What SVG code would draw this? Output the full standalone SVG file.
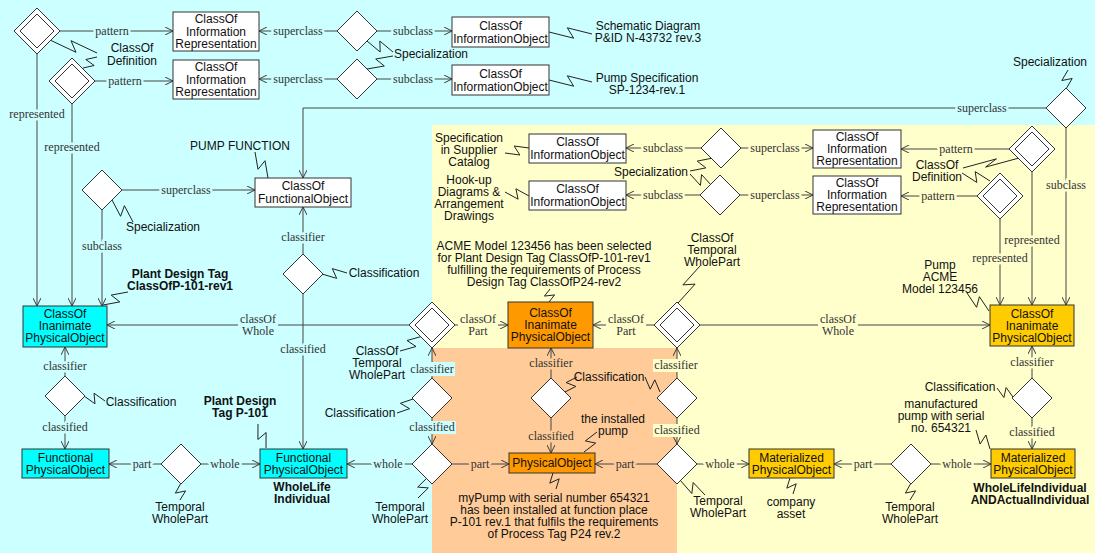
<svg xmlns="http://www.w3.org/2000/svg" width="1095" height="553" viewBox="0 0 1095 553">
<style>
.box{stroke:#333;stroke-width:1}
.w{fill:#fff}.cy{fill:#00FFFF}.or{fill:#FF9900}.gd{fill:#FFCC00}
.dia{fill:#fff;stroke:#333;stroke-width:1}
.ln{fill:none;stroke:#444;stroke-width:1}
.arr{marker-end:url(#a)}
.zz{fill:none;stroke:#222;stroke-width:1}
.nt{font-family:"Liberation Sans",Arial,sans-serif;font-size:12px;text-anchor:middle;fill:#111}
.b{font-weight:bold}
.lb{font-family:"Liberation Serif","Times New Roman",serif;font-size:12px;text-anchor:middle;fill:#333;paint-order:stroke;stroke-width:5;stroke-linejoin:round}
.lc{stroke:#CCFFFF}.ly{stroke:#FFFFCC}.lo{stroke:#FFCC99}
.rc{fill:#CCFFFF}.ry{fill:#FFFFCC}.ro{fill:#FFCC99}
</style>
<defs>
<marker id="a" viewBox="0 0 10 10" refX="10" refY="5" markerWidth="8" markerHeight="8" markerUnits="userSpaceOnUse" orient="auto"><path d="M0,0 L10,5 L0,10" fill="none" stroke="#333" stroke-width="1.2"/></marker>
<path id="dm" class="dia" d="M0,-20 L20,0 L0,20 L-20,0Z"/>
<g id="dd"><path class="dia" d="M0,-23 L23,0 L0,23 L-23,0Z"/><path class="dia" d="M0,-17 L17,0 L0,17 L-17,0Z"/></g>
</defs>
<g id="background">
<rect x="0" y="0" width="1095" height="553" fill="#CCFFFF"/>
<rect x="432" y="125" width="663" height="428" fill="#FFFFCC"/>
<rect x="432" y="348" width="245" height="205" fill="#FFCC99"/>
</g>
<g id="connectors">
<path class="ln arr" d="M59,31 H173"/>
<path class="ln arr" d="M95,81 H173"/>
<path class="ln arr" d="M337,31 H259"/>
<path class="ln arr" d="M337,79 H259"/>
<path class="ln arr" d="M377,31 H452"/>
<path class="ln arr" d="M377,79 H452"/>
<path class="ln arr" d="M37,54 V306"/>
<path class="ln arr" d="M72,104 V306"/>
<path class="ln arr" d="M122,190 H255"/>
<path class="ln arr" d="M102,210 V306"/>
<path class="ln arr" d="M1046,108 H303 V178"/>
<path class="ln arr" d="M1066,128 V305"/>
<path class="ln arr" d="M701,148 H626"/>
<path class="ln arr" d="M700,195 H626"/>
<path class="ln arr" d="M741,148 H813"/>
<path class="ln arr" d="M740,195 H813"/>
<path class="ln arr" d="M1009,149 H901"/>
<path class="ln arr" d="M977,196 H901"/>
<path class="ln arr" d="M1032,172 V305"/>
<path class="ln arr" d="M1000,219 V305"/>
<path class="ln arr" d="M409,325 H107"/>
<path class="ln arr" d="M455,325 H508"/>
<path class="ln arr" d="M654,325 H593"/>
<path class="ln arr" d="M700,325 H990"/>
<path class="ln arr" d="M303,254 V207"/>
<path class="ln arr" d="M303,294 V449"/>
<path class="ln arr" d="M65,376 V347"/>
<path class="ln arr" d="M65,416 V449"/>
<path class="ln arr" d="M161,464 H109"/>
<path class="ln arr" d="M201,464 H260"/>
<path class="ln arr" d="M432,378 V348"/>
<path class="ln arr" d="M432,418 V444"/>
<path class="ln arr" d="M412,464 H347"/>
<path class="ln arr" d="M452,464 H509"/>
<path class="ln arr" d="M551,378 V348"/>
<path class="ln arr" d="M551,418 V453"/>
<path class="ln arr" d="M677,378 V348"/>
<path class="ln arr" d="M677,418 V444"/>
<path class="ln arr" d="M657,464 H595"/>
<path class="ln arr" d="M697,464 H749"/>
<path class="ln arr" d="M891,464 H834"/>
<path class="ln arr" d="M931,464 H991"/>
<path class="ln arr" d="M1032,378 V346"/>
<path class="ln arr" d="M1032,418 V449"/>
<rect class="rc" x="238" y="312" width="40" height="26"/>
<rect class="ry" x="458" y="312" width="40" height="26"/>
<rect class="ry" x="606" y="312" width="40" height="26"/>
<rect class="ry" x="818" y="312" width="40" height="26"/>
<rect class="rc" x="409" y="362" width="46" height="14"/>
<rect class="rc" x="408" y="421" width="48" height="13"/>
<rect class="ry" x="653" y="359" width="46" height="13"/>
<rect class="ry" x="653" y="424" width="48" height="13"/>
<text class="lb lc" x="112" y="35">pattern</text>
<text class="lb lc" x="125" y="85">pattern</text>
<text class="lb lc" x="298" y="35">superclass</text>
<text class="lb lc" x="298" y="83">superclass</text>
<text class="lb lc" x="413" y="35">subclass</text>
<text class="lb lc" x="413" y="83">subclass</text>
<text class="lb lc" x="37" y="118">represented</text>
<text class="lb lc" x="72" y="151">represented</text>
<text class="lb lc" x="186" y="194">superclass</text>
<text class="lb lc" x="102" y="250">subclass</text>
<text class="lb lc" x="982" y="112">superclass</text>
<text class="lb ly" x="1066" y="189">subclass</text>
<text class="lb ly" x="663" y="152">subclass</text>
<text class="lb ly" x="663" y="199">subclass</text>
<text class="lb ly" x="775" y="152">superclass</text>
<text class="lb ly" x="775" y="199">superclass</text>
<text class="lb ly" x="956" y="153">pattern</text>
<text class="lb ly" x="938" y="200">pattern</text>
<text class="lb ly" x="1032" y="244">represented</text>
<text class="lb ly" x="1000" y="262">represented</text>
<text class="lb" x="258" y="323">classOf</text><text class="lb" x="258" y="335">Whole</text>
<text class="lb" x="478" y="323">classOf</text><text class="lb" x="478" y="335">Part</text>
<text class="lb" x="626" y="323">classOf</text><text class="lb" x="626" y="335">Part</text>
<text class="lb" x="838" y="323">classOf</text><text class="lb" x="838" y="335">Whole</text>
<text class="lb lc" x="303" y="241">classifier</text>
<text class="lb lc" x="303" y="353">classified</text>
<text class="lb lc" x="65" y="370">classifier</text>
<text class="lb lc" x="65" y="431">classified</text>
<text class="lb lc" x="142" y="468">part</text>
<text class="lb lc" x="225" y="468">whole</text>
<text class="lb" x="432" y="373">classifier</text>
<text class="lb" x="432" y="431">classified</text>
<text class="lb lc" x="388" y="468">whole</text>
<text class="lb lo" x="480" y="468">part</text>
<text class="lb lo" x="551" y="367">classifier</text>
<text class="lb lo" x="551" y="440">classified</text>
<text class="lb" x="676" y="369">classifier</text>
<text class="lb" x="677" y="434">classified</text>
<text class="lb lo" x="625" y="468">part</text>
<text class="lb ly" x="720" y="468">whole</text>
<text class="lb ly" x="863" y="468">part</text>
<text class="lb ly" x="957" y="468">whole</text>
<text class="lb ly" x="1032" y="366">classifier</text>
<text class="lb ly" x="1032" y="436">classified</text>
<polyline class="zz" points="50,40 76,52.3 71,40.7 97,53"/>
<polyline class="zz" points="83,68 94.2,65.5 85.8,59.5 97,57"/>
<polyline class="zz" points="367,41 380.2,52 379.8,41 393,52"/>
<polyline class="zz" points="367,69 384.3,66 375.7,59 393,56"/>
<polyline class="zz" points="549,32 573.7,38.2 567.3,27.8 592,34"/>
<polyline class="zz" points="549,80 573.7,86.2 567.3,75.8 592,82"/>
<polyline class="zz" points="255,152 258,169.3 265,160.7 268,178"/>
<polyline class="zz" points="112,200 120.6,216.3 124.4,205.7 133,222"/>
<polyline class="zz" points="128,292 111.2,295.1 119.8,301.9 103,305"/>
<polyline class="zz" points="322,274 336.7,278.4 332.3,268.6 347,273"/>
<polyline class="zz" points="84,396 95,403.8 94,393.2 105,401"/>
<polyline class="zz" points="181,483 175.4,493.1 185.6,490.9 180,500"/>
<polyline class="zz" points="258,424 257.9,439.5 266.1,432.5 266,448"/>
<polyline class="zz" points="423,336 407,340.5 416,346.5 400,351"/>
<polyline class="zz" points="413,399 400.4,403.3 409.6,408.7 397,413"/>
<polyline class="zz" points="428,477 417.7,487.1 428.3,487.9 418,498"/>
<polyline class="zz" points="550,289 544.4,296.1 554.6,294.9 549,302"/>
<polyline class="zz" points="700,266 682.9,284.9 695.1,284.1 678,303"/>
<polyline class="zz" points="565,392 575.9,386.4 566.1,382.6 577,377"/>
<polyline class="zz" points="645,377 650.2,389.2 654.8,379.8 660,392"/>
<polyline class="zz" points="597,432 585.3,440.9 595.7,443.1 584,452"/>
<polyline class="zz" points="553,473 549.8,483.2 559.2,478.8 556,489"/>
<polyline class="zz" points="680,480 691.8,493.5 693.2,482.5 705,495"/>
<polyline class="zz" points="790,478 786.8,488.2 796.2,483.8 793,494"/>
<polyline class="zz" points="911,483 905.4,493.1 915.6,490.9 910,500"/>
<polyline class="zz" points="997,388 1003.9,397.5 1006.1,387.5 1013,397"/>
<polyline class="zz" points="976,430 980.1,444 985.9,435 990,449"/>
<polyline class="zz" points="967,293 976.6,307.3 979.4,296.7 989,311"/>
<polyline class="zz" points="1068,70 1061.8,80.5 1072.2,78.5 1066,89"/>
<polyline class="zz" points="1019,158 985.6,167.1 996.4,158.9 963,168"/>
<polyline class="zz" points="962,173 976.8,182.4 975.2,171.6 990,181"/>
<polyline class="zz" points="713,158 697.2,161.1 705.8,167.9 690,171"/>
<polyline class="zz" points="690,174 700.4,185.4 701.6,174.6 712,186"/>
<polyline class="zz" points="505,153 519.9,155 514.1,146 529,148"/>
<polyline class="zz" points="505,192 518.1,199.2 515.9,188.8 529,196"/>
</g>
<g id="diamonds">
<use id="d-A1" href="#dd" x="37" y="31"/>
<use id="d-A2" href="#dd" x="72" y="81"/>
<use id="d-F1" href="#dd" x="1032" y="149"/>
<use id="d-F2" href="#dd" x="1000" y="196"/>
<use id="d-G" href="#dd" x="432" y="325"/>
<use id="d-H" href="#dd" x="677" y="325"/>
<use id="d-B1" href="#dm" x="357" y="31"/>
<use id="d-B2" href="#dm" x="357" y="79"/>
<use id="d-C" href="#dm" x="102" y="190"/>
<use id="d-D" href="#dm" x="1066" y="108"/>
<use id="d-E1" href="#dm" x="721" y="148"/>
<use id="d-E2" href="#dm" x="720" y="195"/>
<use id="d-I" href="#dm" x="303" y="274"/>
<use id="d-K" href="#dm" x="65" y="396"/>
<use id="d-J" href="#dm" x="181" y="464"/>
<use id="d-L" href="#dm" x="432" y="398"/>
<use id="d-M" href="#dm" x="432" y="464"/>
<use id="d-N1" href="#dm" x="551" y="398"/>
<use id="d-N2" href="#dm" x="677" y="398"/>
<use id="d-O" href="#dm" x="677" y="464"/>
<use id="d-P" href="#dm" x="911" y="464"/>
<use id="d-Q" href="#dm" x="1032" y="398"/>
</g>
<g id="n-cir1"><rect class="box w" x="173" y="12" width="86" height="39"/><text class="nt" x="216" y="23">ClassOf</text><text class="nt" x="216" y="35.5">Information</text><text class="nt" x="216" y="48">Representation</text></g>
<g id="n-cir2"><rect class="box w" x="173" y="60" width="86" height="39"/><text class="nt" x="216" y="71">ClassOf</text><text class="nt" x="216" y="83.5">Information</text><text class="nt" x="216" y="96">Representation</text></g>
<g id="n-cio1"><rect class="box w" x="452" y="17" width="97" height="30"/><text class="nt" x="500.5" y="29.5">ClassOf</text><text class="nt" x="500.5" y="42.5">InformationObject</text></g>
<g id="n-cio2"><rect class="box w" x="452" y="65" width="97" height="30"/><text class="nt" x="500.5" y="77.5">ClassOf</text><text class="nt" x="500.5" y="90.5">InformationObject</text></g>
<g id="n-cfo"><rect class="box w" x="255" y="178" width="96" height="29"/><text class="nt" x="303" y="190">ClassOf</text><text class="nt" x="303" y="202.5">FunctionalObject</text></g>
<g id="n-cipo-c"><rect class="box cy" x="23" y="306" width="84" height="41"/><text class="nt" x="65" y="318">ClassOf</text><text class="nt" x="65" y="330">Inanimate</text><text class="nt" x="65" y="342">PhysicalObject</text></g>
<g id="n-cio-y1"><rect class="box w" x="529" y="134" width="97" height="29"/><text class="nt" x="577.5" y="146">ClassOf</text><text class="nt" x="577.5" y="158.5">InformationObject</text></g>
<g id="n-cio-y2"><rect class="box w" x="529" y="181" width="97" height="29"/><text class="nt" x="577.5" y="193">ClassOf</text><text class="nt" x="577.5" y="205.5">InformationObject</text></g>
<g id="n-cir-y1"><rect class="box w" x="813" y="130" width="88" height="38"/><text class="nt" x="857" y="141">ClassOf</text><text class="nt" x="857" y="153">Information</text><text class="nt" x="857" y="165">Representation</text></g>
<g id="n-cir-y2"><rect class="box w" x="813" y="176" width="88" height="38"/><text class="nt" x="857" y="187">ClassOf</text><text class="nt" x="857" y="199">Information</text><text class="nt" x="857" y="211">Representation</text></g>
<g id="n-cipo-o"><rect class="box or" x="508" y="302" width="85" height="46"/><text class="nt" x="550.5" y="317">ClassOf</text><text class="nt" x="550.5" y="329">Inanimate</text><text class="nt" x="550.5" y="341">PhysicalObject</text></g>
<g id="n-cipo-g"><rect class="box gd" x="990" y="305" width="84" height="41"/><text class="nt" x="1032" y="317.5">ClassOf</text><text class="nt" x="1032" y="329.5">Inanimate</text><text class="nt" x="1032" y="341.5">PhysicalObject</text></g>
<g id="n-fpo-l"><rect class="box cy" x="22" y="449" width="87" height="29"/><text class="nt" x="65.5" y="461.5">Functional</text><text class="nt" x="65.5" y="473.5">PhysicalObject</text></g>
<g id="n-fpo-m"><rect class="box cy" x="260" y="449" width="87" height="29"/><text class="nt" x="303.5" y="461.5">Functional</text><text class="nt" x="303.5" y="473.5">PhysicalObject</text></g>
<g id="n-po"><rect class="box or" x="509" y="453" width="86" height="20"/><text class="nt" x="552" y="467">PhysicalObject</text></g>
<g id="n-mpo-l"><rect class="box gd" x="749" y="449" width="85" height="29"/><text class="nt" x="791.5" y="461.5">Materialized</text><text class="nt" x="791.5" y="473.5">PhysicalObject</text></g>
<g id="n-mpo-r"><rect class="box gd" x="991" y="449" width="84" height="29"/><text class="nt" x="1033" y="461.5">Materialized</text><text class="nt" x="1033" y="473.5">PhysicalObject</text></g>
<g id="notes">
<text class="nt" x="132" y="52">ClassOf</text><text class="nt" x="132" y="65">Definition</text>
<text class="nt" x="431" y="58">Specialization</text>
<text class="nt" x="648" y="30">Schematic Diagram</text><text class="nt" x="648" y="42">P&amp;ID N-43732 rev.3</text>
<text class="nt" x="647" y="82">Pump Specification</text><text class="nt" x="647" y="94">SP-1234-rev.1</text>
<text class="nt" x="1050" y="66">Specialization</text>
<text class="nt" x="240" y="150">PUMP FUNCTION</text>
<text class="nt" x="469" y="142">Specification</text><text class="nt" x="469" y="154">in Supplier</text><text class="nt" x="469" y="166">Catalog</text>
<text class="nt" x="469" y="184">Hook-up</text><text class="nt" x="469" y="196">Diagrams &amp;</text><text class="nt" x="469" y="208">Arrangement</text><text class="nt" x="469" y="220">Drawings</text>
<text class="nt" x="651" y="176">Specialization</text>
<text class="nt" x="937" y="169">ClassOf</text><text class="nt" x="937" y="181">Definition</text>
<text class="nt" x="163" y="231">Specialization</text>
<text class="nt b" x="180" y="278">Plant Design Tag</text><text class="nt b" x="180" y="290">ClassOfP-101-rev1</text>
<text class="nt" x="384" y="277">Classification</text>
<text class="nt" x="544" y="250">ACME Model 123456 has been selected</text>
<text class="nt" x="544" y="262">for Plant Design Tag ClassOfP-101-rev1</text>
<text class="nt" x="544" y="274">fulfilling the requirements of Process</text>
<text class="nt" x="544" y="286">Design Tag ClassOfP24-rev2</text>
<text class="nt" x="712" y="242">ClassOf</text><text class="nt" x="712" y="254">Temporal</text><text class="nt" x="712" y="266">WholePart</text>
<text class="nt" x="940" y="269">Pump</text><text class="nt" x="940" y="281">ACME</text><text class="nt" x="940" y="293">Model 123456</text>
<text class="nt" x="377" y="355">ClassOf</text><text class="nt" x="377" y="367">Temporal</text><text class="nt" x="377" y="379">WholePart</text>
<text class="nt" x="360" y="417">Classification</text>
<text class="nt" x="141" y="406">Classification</text>
<text class="nt b" x="240" y="405">Plant Design</text><text class="nt b" x="240" y="417">Tag P-101</text>
<text class="nt b" x="302" y="491">WholeLife</text><text class="nt b" x="302" y="503">Individual</text>
<text class="nt" x="180" y="511">Temporal</text><text class="nt" x="180" y="523">WholePart</text>
<text class="nt" x="400" y="511">Temporal</text><text class="nt" x="400" y="523">WholePart</text>
<text class="nt" x="609" y="381">Classification</text>
<text class="nt" x="613" y="423">the installed</text><text class="nt" x="613" y="435">pump</text>
<text class="nt" x="554" y="502">myPump with serial number 654321</text>
<text class="nt" x="554" y="514">has been installed at function place</text>
<text class="nt" x="554" y="526">P-101 rev.1 that fulfils the requirements</text>
<text class="nt" x="554" y="538">of Process Tag P24 rev.2</text>
<text class="nt" x="718" y="505">Temporal</text><text class="nt" x="718" y="517">WholePart</text>
<text class="nt" x="791" y="506">company</text><text class="nt" x="791" y="518">asset</text>
<text class="nt" x="910" y="511">Temporal</text><text class="nt" x="910" y="523">WholePart</text>
<text class="nt" x="960" y="391">Classification</text>
<text class="nt" x="941" y="408">manufactured</text><text class="nt" x="941" y="420">pump with serial</text><text class="nt" x="941" y="432">no. 654321</text>
<text class="nt b" x="1030" y="492">WholeLifeIndividual</text><text class="nt b" x="1030" y="504">ANDActualIndividual</text>
</g>
</svg>
